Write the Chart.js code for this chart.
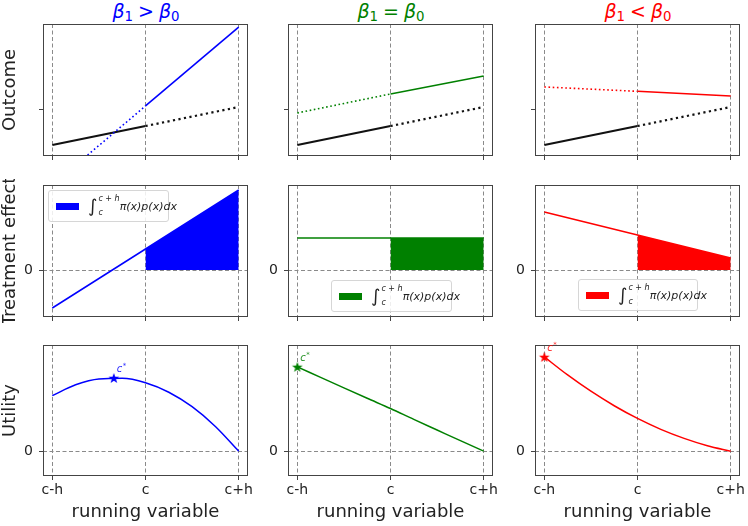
<!DOCTYPE html>
<html>
<head>
<meta charset="utf-8">
<script src="https://cdn.jsdelivr.net/npm/chart.js@4"></script>
<style>
    body { margin: 0; background: #fff; width: 748px; height: 526px; position: relative; overflow: hidden; font-family: 'DejaVu Sans', sans-serif; color: #222; }
    canvas { position: absolute; }
    .title { position: absolute; top: 0px; font-size: 19px; line-height: 22px; transform: translateX(-50%); white-space: nowrap; }
    .title sub { font-size: 0.7em; vertical-align: -0.2em; line-height: 0; font-style: normal; }
    .title .op { margin: 0 5px; }
    .leg { position: absolute; box-sizing: border-box; height: 32px; border: 1px solid #d6d6d6; border-radius: 3px; background: rgba(255, 255, 255, 0.85); display: flex; align-items: center; padding-left: 7px; z-index: 2; white-space: nowrap; }
    .sw { width: 23px; height: 7px; margin-right: 9px; flex: none; }
    .int { font-size: 18px; line-height: 1; }
    .lim { display: inline-flex; flex-direction: column; justify-content: space-between; height: 22px; font-size: 8px; font-style: italic; line-height: 1; margin-left: 1px; white-space: nowrap; }
    .fx { font-size: 11px; font-style: italic; margin-left: 0px; }
</style>
</head>
<body>

<div class="title" style="left:146px;color:blue"><i>β</i><sub>1</sub><span class="op">&gt;</span><i>β</i><sub>0</sub></div>
<div class="title" style="left:391px;color:green"><i>β</i><sub>1</sub><span class="op">=</span><i>β</i><sub>0</sub></div>
<div class="title" style="left:638px;color:red"><i>β</i><sub>1</sub><span class="op">&lt;</span><i>β</i><sub>0</sub></div>

<div class="leg" style="left:48px;top:190px;width:121px"><span class="sw" style="background:blue"></span><span class="int">∫</span><span class="lim"><span>c + h</span><span>c</span></span><span class="fx">π(x)p(x)dx</span></div>
<div class="leg" style="left:331px;top:280px;width:121px"><span class="sw" style="background:green"></span><span class="int">∫</span><span class="lim"><span>c + h</span><span>c</span></span><span class="fx">π(x)p(x)dx</span></div>
<div class="leg" style="left:578px;top:279px;width:120px"><span class="sw" style="background:red"></span><span class="int">∫</span><span class="lim"><span>c + h</span><span>c</span></span><span class="fx">π(x)p(x)dx</span></div>

<script>
// running variable: c-h, c, c+h
const xTicks = [-1, 0, 1];
const xTickLabels = ['c-h', 'c', 'c+h'];
const xPoints = [-1, 0, 1];

// row titles and y ticks
const rowTitles = ['Outcome', 'Treatment effect', 'Utility'];
const yRanges = [[0, 10], [-4.7, 8.5], [-2.5, 10.7]];
const yTickValues = [3.5, 0, 0];
const yTickLabels = ['', '0', '0'];

// outcome (row 1)
const outcomeControl = [0.83, 2.27, 3.71];
const outcomeHigh = [-2.2, 3.79, 9.77];
const outcomeEqual = [3.26, 4.7, 6.06];
const outcomeLow = [5.23, 4.9, 4.55];

// treatment effect (row 2)
const effectHigh = [-3.8, 2.1, 8.0];
const effectEqual = [3.2, 3.2, 3.2];
const effectLow = [5.8, 3.5, 1.2];

// utility (row 3)
const utilX = [-1, -0.75, -0.5, -0.25, 0, 0.25, 0.5, 0.75, 1];
const utilityHigh = [5.6, 6.69, 7.28, 7.34, 6.9, 5.94, 4.48, 2.49, 0];
const utilityEqual = [8.5, 7.44, 6.38, 5.33, 4.3, 3.2, 2.13, 1.06, 0];
const utilityLow = [9.5, 7.68, 6.04, 4.58, 3.3, 2.2, 1.29, 0.55, 0];

// optimal cutoff c*
const starX = [-0.34, -1, -1];
const starY = [7.38, 8.5, 9.5];

const colColors = ['blue', 'green', 'red'];

Chart.defaults.font.family = "'DejaVu Sans', sans-serif";
Chart.defaults.color = '#222';

const colLeft = [43, 288, 535];
const rowTop = [24, 185, 344];
const PW = 205, PH = 132;
const PADL = 45, PADT = 6, PADR = 8;

function pts(xs, ys) {
    return xs.map((x, i) => ({ x: x, y: ys[i] }));
}

// little filled star like matplotlib's '*'
function starImage(color) {
    const s = 12;
    const c = document.createElement('canvas');
    c.width = s; c.height = s;
    const g = c.getContext('2d');
    g.fillStyle = color;
    g.beginPath();
    for (let i = 0; i < 10; i++) {
        const r = i % 2 ? 2.3 : 5.6;
        const a = -Math.PI / 2 + i * Math.PI / 5;
        g.lineTo(s / 2 + r * Math.cos(a), s / 2 + 0.5 + r * Math.sin(a));
    }
    g.closePath();
    g.fill();
    return c;
}

// axes frame drawn on top like matplotlib spines
const framePlugin = {
    id: 'frame',
    afterDatasetsDraw(chart) {
        const { ctx, chartArea: a } = chart;
        ctx.save();
        ctx.strokeStyle = '#444';
        ctx.lineWidth = 1;
        ctx.strokeRect(a.left + 0.5, a.top + 0.5, a.width - 1, a.height - 1);
        ctx.restore();
    }
};

// "c*" text next to the star
const starLabelPlugin = {
    id: 'starLabel',
    afterDatasetsDraw(chart, args, opts) {
        if (opts.x === undefined) return;
        const { ctx, scales } = chart;
        const px = scales.x.getPixelForValue(opts.x) + 3;
        const py = scales.y.getPixelForValue(opts.y) - 6;
        ctx.save();
        ctx.fillStyle = opts.color;
        ctx.globalAlpha = 0.85;
        ctx.font = "italic 10px 'DejaVu Sans'";
        ctx.textBaseline = 'alphabetic';
        ctx.fillText('c', px, py);
        ctx.font = "7px 'DejaVu Sans'";
        ctx.fillText('*', px + 6, py - 4);
        ctx.restore();
    }
};

function addChart(row, col, datasets, starOpts) {
    const bottom = row === 2 ? 50 : 6;
    const cv = document.createElement('canvas');
    cv.width = PADL + PW + PADR;
    cv.height = PADT + PH + bottom;
    cv.style.left = (colLeft[col] - PADL) + 'px';
    cv.style.top = (rowTop[row] - PADT) + 'px';
    document.body.appendChild(cv);

    return new Chart(cv, {
        type: 'line',
        data: { datasets: datasets },
        plugins: [framePlugin, starLabelPlugin],
        options: {
            responsive: false,
            animation: false,
            devicePixelRatio: 1,
            layout: { padding: { left: 0, top: PADT, right: PADR, bottom: 0 } },
            elements: { point: { radius: 0 }, line: { tension: 0 } },
            plugins: {
                legend: { display: false },
                tooltip: { enabled: false },
                starLabel: starOpts || {}
            },
            scales: {
                x: {
                    type: 'linear',
                    min: -1.1,
                    max: 1.1,
                    afterBuildTicks: s => { s.ticks = xTicks.map(v => ({ value: v })); },
                    afterFit: s => { s.height = bottom; s.paddingLeft = 0; s.paddingRight = 0; },
                    border: { display: false, dash: [4, 2.5] },
                    grid: { color: '#8a8a8a', lineWidth: 1, tickLength: 4, tickColor: '#444', tickBorderDash: [1, 0] },
                    ticks: {
                        display: row === 2,
                        maxRotation: 0,
                        autoSkip: false,
                        padding: 2,
                        font: { size: 14 },
                        callback: v => xTickLabels[xTicks.indexOf(v)]
                    },
                    title: {
                        display: row === 2,
                        text: 'running variable',
                        font: { size: 18 },
                        padding: { top: 0, bottom: 3 }
                    }
                },
                y: {
                    min: yRanges[row][0],
                    max: yRanges[row][1],
                    afterBuildTicks: s => { s.ticks = [{ value: yTickValues[row] }]; },
                    afterFit: s => { s.width = PADL; s.paddingTop = 0; s.paddingBottom = 0; },
                    border: { display: false, dash: [4, 2.5] },
                    grid: {
                        color: row === 0 ? 'rgba(0,0,0,0)' : '#8a8a8a',
                        lineWidth: 1,
                        tickLength: 4,
                        tickColor: '#444',
                        tickBorderDash: [1, 0]
                    },
                    ticks: {
                        padding: 6,
                        font: { size: 14 },
                        callback: () => yTickLabels[row]
                    },
                    title: {
                        display: col === 0,
                        text: rowTitles[row],
                        font: { size: 18 },
                        padding: { top: 2, bottom: 0 }
                    }
                }
            }
        }
    });
}

// row 1: outcome, left of c is dotted for the treated line, right of c dotted for control
const outcomeSeries = [outcomeHigh, outcomeEqual, outcomeLow];
outcomeSeries.forEach((series, col) => {
    addChart(0, col, [
        {
            data: pts(xPoints, series),
            borderColor: colColors[col],
            borderWidth: 1.6,
            segment: { borderDash: ctx => xPoints[ctx.p0DataIndex] < 0 ? [1.6, 2.6] : undefined }
        },
        {
            data: pts(xPoints, outcomeControl),
            borderColor: '#111',
            borderWidth: 2.2,
            segment: { borderDash: ctx => xPoints[ctx.p0DataIndex] >= 0 ? [2.2, 3.4] : undefined }
        }
    ]);
});

// row 2: treatment effect, shaded from c to c+h
const effectSeries = [effectHigh, effectEqual, effectLow];
effectSeries.forEach((series, col) => {
    const all = pts(xPoints, series);
    addChart(1, col, [
        { data: all, borderColor: colColors[col], borderWidth: 1.5 },
        {
            data: all.filter(p => p.x >= 0),
            borderWidth: 0,
            borderColor: 'rgba(0,0,0,0)',
            backgroundColor: colColors[col],
            fill: 'origin'
        }
    ]);
});

// row 3: utility with optimal cutoff
const utilitySeries = [utilityHigh, utilityEqual, utilityLow];
utilitySeries.forEach((series, col) => {
    addChart(2, col, [
        {
            data: [{ x: starX[col], y: starY[col] }],
            showLine: false,
            pointStyle: starImage(colColors[col]),
            pointRadius: 6
        },
        {
            data: pts(utilX, series),
            borderColor: colColors[col],
            borderWidth: 1.5,
            tension: 0.4,
            cubicInterpolationMode: 'monotone'
        }
    ], { x: starX[col], y: starY[col], color: colColors[col] });
});
</script>
</body>
</html>
